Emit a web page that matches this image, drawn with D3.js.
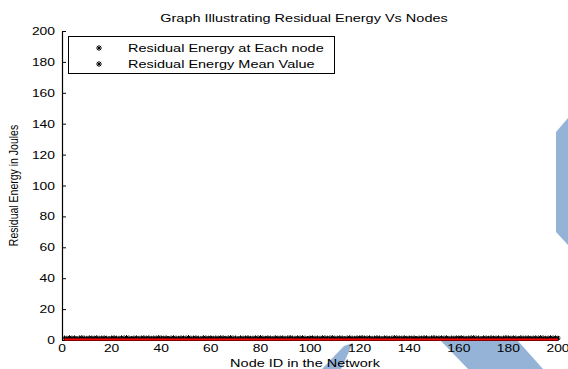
<!DOCTYPE html>
<html><head><meta charset="utf-8">
<script src="https://cdn.jsdelivr.net/npm/d3@7"></script>
<style>body{margin:0;background:#fff}svg{display:block}text{font-family:"Liberation Sans",Arial,sans-serif;fill:#000}</style>
</head><body><svg id="c" width="568" height="369"></svg>
<script>
const title = "Graph Illustrating Residual Energy Vs Nodes";
const xLabel = "Node ID in the Network";
const yLabel = "Residual Energy in Joules";
const legendLabels = ["Residual Energy at Each node", "Residual Energy Mean Value"];
const xTicks = [0,20,40,60,80,100,120,140,160,180,200];
const yTicks = [0,20,40,60,80,100,120,140,160,180,200];
const nodeEnergy = [
1.3,1.1,1.5,1.2,1.4,1.0,1.3,1.6,1.2,1.1,
1.4,1.3,1.2,1.5,1.1,1.3,1.4,1.2,1.0,1.3,
1.5,1.2,1.1,1.4,1.3,1.6,1.2,1.0,1.3,1.4,
1.1,1.3,1.5,1.2,1.4,1.1,1.3,1.2,1.6,1.3,
1.2,1.4,1.0,1.3,1.5,1.2,1.1,1.4,1.3,1.2,
1.6,1.1,1.3,1.4,1.2,1.0,1.5,1.3,1.2,1.4,
1.1,1.3,1.2,1.5,1.4,1.1,1.3,1.6,1.2,1.3,
1.0,1.4,1.2,1.3,1.5,1.1,1.2,1.4,1.3,1.6,
1.2,1.1,1.4,1.3,1.0,1.5,1.2,1.3,1.4,1.1,
1.3,1.6,1.2,1.1,1.4,1.3,1.5,1.2,1.0,1.3,
1.4,1.2,1.3,1.1,1.5,1.4,1.2,1.3,1.6,1.1,
1.2,1.4,1.3,1.0,1.3,1.5,1.2,1.1,1.4,1.3,
1.6,1.2,1.3,1.4,1.1,1.2,1.5,1.3,1.0,1.4,
1.3,1.1,1.2,1.6,1.4,1.3,1.2,1.5,1.1,1.3,
1.2,1.4,1.0,1.3,1.2,1.5,1.4,1.1,1.3,1.6,
1.1,1.3,1.4,1.2,1.5,1.0,1.3,1.2,1.4,1.3,
1.5,1.2,1.1,1.3,1.4,1.6,1.2,1.3,1.0,1.4,
1.3,1.1,1.5,1.2,1.3,1.4,1.1,1.2,1.6,1.3,
1.2,1.4,1.3,1.0,1.5,1.2,1.3,1.4,1.1,1.3,
1.4,1.2,1.6,1.3,1.1,1.2,1.5,1.3,1.4,1.2
];
const meanEnergy = 0.4;

const sx = 1.26, fs = 11.5;
const svg = d3.select("#c");
// watermark-like blue shapes (decoration)
const blue = "#95b3d7";
const shapes = [
  [[556,132],[568,118],[568,245],[556,232]],
  [[441,341],[518,341],[543,369],[468,369]],
  [[344,346],[353,343],[341,369],[322,369]]
];
svg.selectAll("polygon.bg").data(shapes).join("polygon").attr("class","bg")
  .attr("points", d=>d.map(p=>p.join(",")).join(" ")).attr("fill", blue);

const L=62, R=558, T=31, B=340;
const x = d3.scaleLinear().domain([0,200]).range([L,R]);
const y = d3.scaleLinear().domain([0,200]).range([B,T]);

function stext(g, tx, ty, str, anchor, size) {
  return g.append("text").attr("transform",`translate(${tx},${ty}) scale(${sx},1)`)
    .attr("text-anchor",anchor)
    .style("font-size",(size||fs)+"px").text(str);
}

// axes
const xa = svg.append("g").attr("transform",`translate(0,${B})`)
  .call(d3.axisBottom(x).tickValues(xTicks).tickSizeInner(-4).tickSizeOuter(0).tickFormat(""));
const ya = svg.append("g").attr("transform",`translate(${L},0)`)
  .call(d3.axisLeft(y).tickValues(yTicks).tickSizeInner(-4).tickSizeOuter(0).tickFormat(""));
[xa,ya].forEach(a=>{a.select(".domain").attr("stroke","#000").attr("stroke-width",1.2);a.selectAll(".tick line").attr("stroke","#000");});
xTicks.forEach(v=>stext(svg, x(v), B+12, String(v), "middle", 11));
yTicks.forEach(v=>stext(svg, L-7, y(v)+4, String(v), "end", 11));

stext(svg, 304, 22, title, "middle");
stext(svg, 305, 367, xLabel, "middle");
svg.append("text").attr("transform",`translate(18,${(T+B)/2}) rotate(-90) scale(1,${sx})`)
  .attr("text-anchor","middle").style("font-size","10.5px").text(yLabel);

// marker
function star(g, cx, cy, r, col) {
  const p = `M${cx-r},${cy}H${cx+r}M${cx},${cy-r}V${cy+r}M${cx-r*0.7},${cy-r*0.7}L${cx+r*0.7},${cy+r*0.7}M${cx-r*0.7},${cy+r*0.7}L${cx+r*0.7},${cy-r*0.7}`;
  g.append("path").attr("d",p).attr("stroke",col).attr("stroke-width",1).attr("fill","none");
}
const nodes = nodeEnergy.map((v,i)=>({id:i+1,v}));
const gp = svg.append("g");
nodes.forEach(d=>star(gp, x(d.id), y(d.v), 2.5, "#000"));
svg.append("path").datum(nodes)
  .attr("d", d3.line().x(d=>x(d.id)).y(()=>y(meanEnergy)))
  .attr("stroke","#ff0000").attr("stroke-width",2).attr("fill","none");

// legend
const lg = svg.append("g");
lg.append("rect").attr("x",68.5).attr("y",36.5).attr("width",266).attr("height",37)
  .attr("fill","#fff").attr("stroke","#000");
legendLabels.forEach((t,i)=>{
  const yy = 48 + i*16;
  star(lg, 99, yy, 3, "#000");
  stext(lg, 128, yy+4, t, "start");
});
</script></body></html>
